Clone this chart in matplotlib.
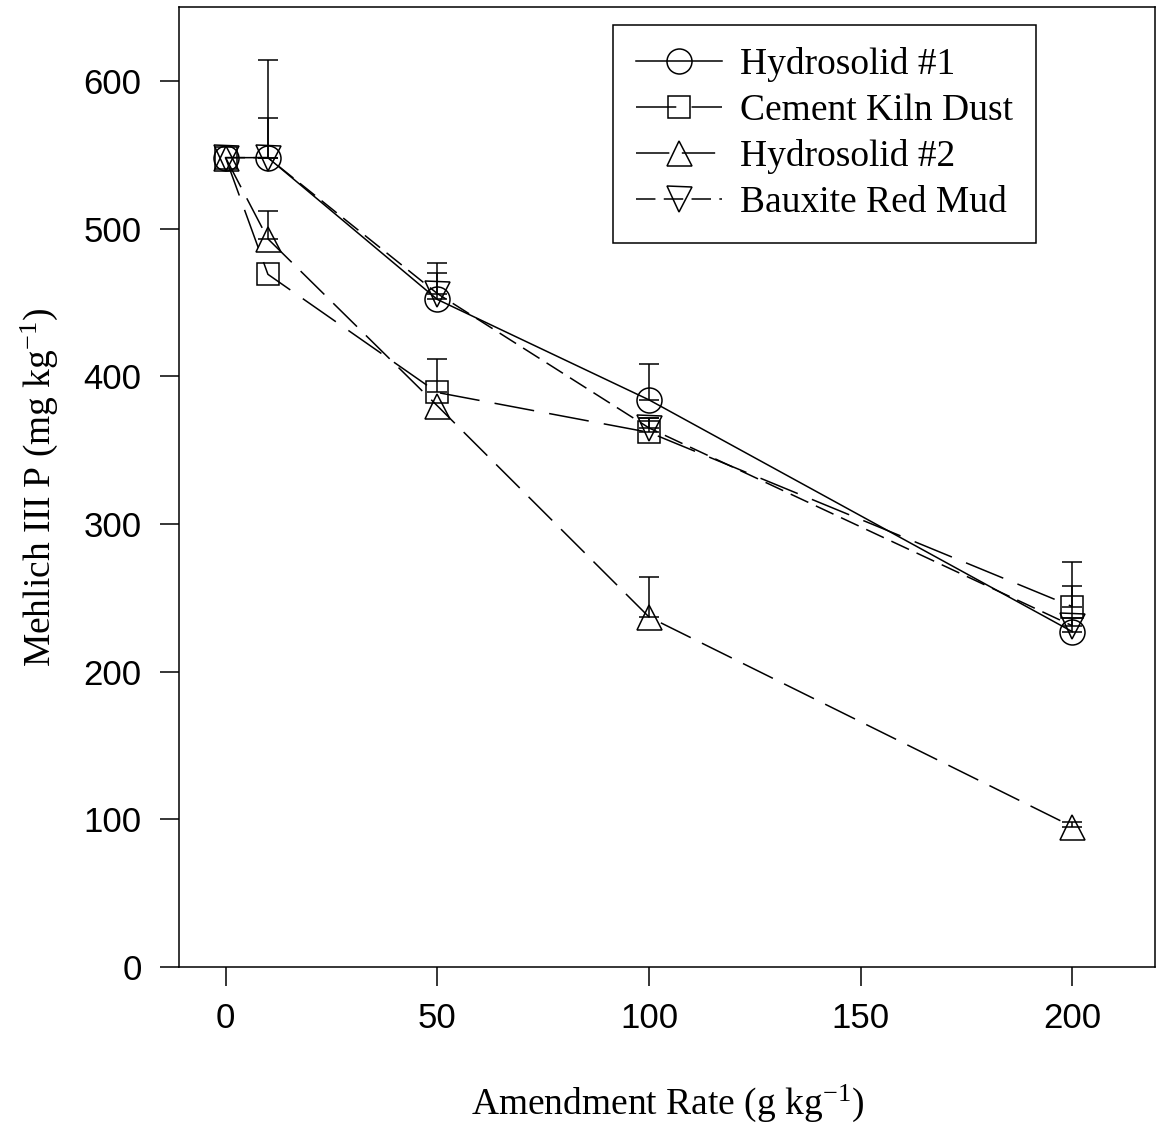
import numpy as np
import matplotlib
matplotlib.use('Agg')
from matplotlib import pyplot as plt

# values
rate = [0, 10, 50, 100, 200]

hydro1 = [548, 548, 452, 384, 227]
hydro1_err = [0, 66, 25, 24, 31]

ckd = [548, 469, 389, 362, 244]
ckd_err = [0, 0, 23, 10, 30]

hydro2 = [548, 493, 380, 237, 95]
hydro2_err = [0, 19, 0, 27, 3]

brm = [548, 548, 456, 365, 231]
brm_err = [0, 27, 14, 7, 5]

names = ['Hydrosolid #1', 'Cement Kiln Dust', 'Hydrosolid #2', 'Bauxite Red Mud']

plt.rcParams['lines.scale_dashes'] = False
plt.rcParams['mathtext.default'] = 'regular'

fig = plt.figure(figsize=(11.6, 11.23), dpi=100)
ax = fig.add_axes([179/1160, 1 - 967/1123, 976/1160, 960/1123])

series = [
    (hydro1, hydro1_err, 'o', 18, '-'),
    (ckd, ckd_err, 's', 16, (0, (29, 11))),
    (hydro2, hydro2_err, '^', 18, (0, (24, 9))),
    (brm, brm_err, 'v', 18, (0, (14, 6))),
]

x = np.array(rate, dtype=float)
for (vals, err, mk, ms, ls), name in zip(series, names):
    vals = np.array(vals, dtype=float)
    err = np.array(err, dtype=float)
    ax.plot(x, vals, color='k', lw=1.1, ls=ls, marker=mk, ms=ms,
            mfc='none', mec='k', mew=1.1, label=name)
    m = err > 0
    ax.errorbar(x[m], vals[m], yerr=[np.zeros(m.sum()), err[m]], fmt='none',
                ecolor='k', elinewidth=1.1, capsize=7.5, capthick=1.1)

ax.set_xlim(-11, 219.5)
ax.set_ylim(0, 650)
ax.set_xticks([0, 50, 100, 150, 200])
ax.set_yticks([0, 100, 200, 300, 400, 500, 600])

for sp in ax.spines.values():
    sp.set_linewidth(1.1)
ax.tick_params(direction='out', length=14, width=1.1, labelsize=25)
ax.tick_params(axis='x', pad=11)
ax.tick_params(axis='y', pad=13)
for lab in ax.get_xticklabels() + ax.get_yticklabels():
    lab.set_family('Liberation Sans')

ax.set_xlabel('Amendment Rate (g kg$^{-1}$)', family='Liberation Serif', fontsize=27)
ax.set_ylabel('Mehlich III P (mg kg$^{-1}$)', family='Liberation Serif', fontsize=27)
ax.xaxis.set_label_coords(0.5, -0.12)
ax.yaxis.set_label_coords(-0.122, 0.5)

leg = ax.legend(loc='upper right', bbox_to_anchor=((1036-179)/976, (967-25)/960),
                borderaxespad=0, prop={'family': 'Liberation Serif', 'size': 27},
                frameon=True, fancybox=False, edgecolor='k', framealpha=1,
                handlelength=2.3, handletextpad=0.5, labelspacing=0.3,
                borderpad=0.6)
leg.get_frame().set_linewidth(1.1)

plt.savefig('out.png', dpi=100)
